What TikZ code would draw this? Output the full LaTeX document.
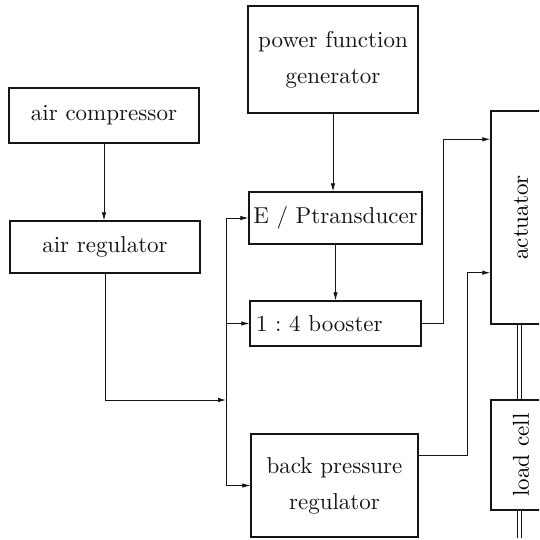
\documentclass[tikz,border=0pt]{standalone}
\usepackage{fontspec}
\setmainfont{lmroman10-regular.otf}
\usetikzlibrary{arrows.meta}
\definecolor{pnInk}{HTML}{151515}
\tikzset{
  pn box/.style={draw=pnInk, line width=1.4pt, inner sep=0pt, align=center, text=pnInk},
  pn line/.style={draw=pnInk, line width=0.8pt},
  pn flow/.style={pn line, -{Latex[length=8pt,width=4.5pt]}},
  pn rod/.style={draw=pnInk, line width=0.7pt, double, double distance=3.5pt},
  pn label/.style={font=\fontsize{23}{36}\selectfont},
}

\begin{document}
\begin{tikzpicture}[x=1pt,y=-1pt]
  \useasboundingbox (0,0) rectangle (539,540);
  \clip (0,0) rectangle (539,540);
  % supply side
  \node[pn box, pn label, minimum width=190pt, minimum height=55pt] (comp) at (104,115.5) {air compressor};
  \node[pn box, pn label, minimum width=190pt, minimum height=52pt] (reg) at (105,247) {air regulator};
  % signal chain
  \node[pn box, pn label, minimum width=170pt, minimum height=107pt] (pfg) at (333,59.5) {power function\\generator};
  \node[pn box, pn label, minimum width=173pt, minimum height=52pt] (ep) at (335.5,218) {E / Ptransducer};
  \node[pn box, pn label, minimum height=45pt, text width=159pt, inner xsep=6pt, align=left] (boost) at (335.5,323.5) {1 :\ 4 booster};
  \node[pn box, pn label, minimum width=167pt, minimum height=103pt] (bpr) at (334.5,485.5) {back pressure\\regulator};
  % test rig
  \node[pn box, minimum width=60pt, minimum height=213pt] (act) at (521,217.5) {};
  \node[pn label, rotate=90] (actlbl) at (act.center) {actuator};
  \node[pn box, minimum width=60pt, minimum height=110pt] (cell) at (521,455) {};
  \node[pn label, rotate=90] (celllbl) at (cell.center) {load cell};
  \coordinate (rod) at (519.5,0);
  \draw[pn rod] (rod |- act.south) -- (rod |- cell.north);
  \draw[pn rod] (rod |- cell.south) -- ++(0,27);
  % air path
  \coordinate (bus) at (226,400);
  \draw[pn flow] (comp.south) -- (comp.south |- reg.north);
  \draw[pn flow] (reg.south) |- (bus);
  \draw[pn line] (bus |- ep.west) -- (bus |- bpr.west);
  \foreach \n in {ep,boost,bpr}
    \draw[pn flow] (bus |- \n.west) -- (\n.west);
  % signal path
  \draw[pn flow] (pfg.south) -- (pfg.south |- ep.north);
  \draw[pn flow] (ep.south) -- (boost.north);
  % outputs to actuator
  \draw[pn flow] (boost.east) -- ++(22,0) |- ([yshift=-29pt]act.north west);
  \coordinate (bprout) at ([yshift=30pt]bpr.east);
  \draw[pn flow] (bprout) -- ++(49,0) |- ([yshift=52pt]act.south west);
\end{tikzpicture}
\end{document}
